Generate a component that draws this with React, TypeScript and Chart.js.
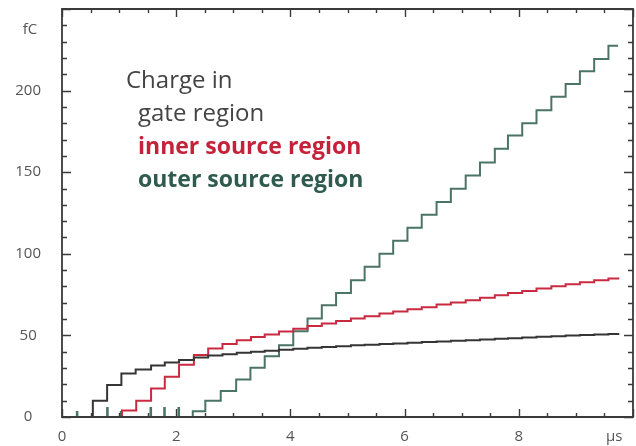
import { useEffect, useRef } from "react";
import { Chart, registerables } from "chart.js";

Chart.register(...registerables);

// Step times (µs) and accumulated charge (fC) after each step
const gateTimes = [0, 0.54, 0.79, 1.04, 1.29, 1.56, 1.8, 2.05, 2.31, 2.56, 2.81, 3.06, 3.31, 3.55, 3.8, 4.05, 4.3, 4.55, 4.8, 5.06, 5.3, 5.56, 5.8, 6.05, 6.3, 6.56, 6.81, 7.07, 7.32, 7.58, 7.81, 8.06, 8.31, 8.57, 8.82, 9.07, 9.32, 9.57, 9.76];
const gateCharge = [0, 10, 19.6, 26.7, 29.1, 31.6, 33.4, 34.9, 36.5, 37.7, 38.5, 39.3, 40.0, 40.6, 41.2, 41.8, 42.4, 42.9, 43.4, 43.9, 44.3, 44.7, 45.1, 45.5, 45.9, 46.3, 46.7, 47.1, 47.5, 47.9, 48.3, 48.7, 49.1, 49.5, 49.9, 50.2, 50.5, 50.8, 50.8];

const innerTimes = [0, 1.05, 1.3, 1.56, 1.8, 2.05, 2.31, 2.56, 2.81, 3.06, 3.31, 3.55, 3.8, 4.05, 4.3, 4.55, 4.8, 5.06, 5.3, 5.56, 5.8, 6.05, 6.3, 6.56, 6.81, 7.07, 7.32, 7.58, 7.81, 8.06, 8.31, 8.57, 8.82, 9.07, 9.32, 9.57, 9.76];
const innerCharge = [0, 4, 10, 17.5, 24.7, 32, 38, 42, 44.8, 47, 49, 50.6, 52.4, 54, 55.7, 57.3, 58.9, 60.4, 61.8, 63.4, 64.7, 66, 67.3, 68.9, 70.1, 71.6, 73, 74.6, 76, 77.2, 78.7, 80.1, 81.3, 82.6, 83.8, 84.8, 84.8];

// Outer region: short induced spikes first, then steady collection
const outerTimes = [0, 0.26, 0.27, 0.79, 0.8, 1.03, 1.04, 1.55, 1.56, 1.79, 1.8, 2.04, 2.05, 2.29, 2.51, 2.78, 3.05, 3.3, 3.55, 3.8, 4.05, 4.3, 4.55, 4.8, 5.06, 5.3, 5.56, 5.8, 6.05, 6.3, 6.56, 6.81, 7.07, 7.32, 7.58, 7.81, 8.06, 8.31, 8.57, 8.82, 9.07, 9.32, 9.57, 9.74];
const outerCharge = [0, 3, 0, 5.5, 0, 3, 0, 5.5, 0, 5.5, 0, 5.5, 0, 3.5, 10, 15.9, 23, 30.2, 37.3, 44, 52.5, 60.4, 68.5, 76, 83.8, 92, 100, 108, 116, 124, 131.7, 139.8, 148, 156, 164.3, 172.5, 180, 188, 196.3, 204, 211.8, 219.3, 227.5, 227.5];

const yLabelValues = [0, 50, 100, 150, 200];
const xLabelValues = [0, 2, 4, 6, 8];
const yUnit = "fC";
const xUnit = "µs";

const noteTitle = "Charge in";
const seriesNames = ["gate region", "inner source region", "outer source region"];
const seriesColors = ["#353535", "#c92a40", "#4a7466"];
const seriesTextColors = ["#444444", "#c4223a", "#2f5a4e"];

const TICK_FONT = '15px "Open Sans"';

const toPoints = (t: number[], q: number[]) => t.map((x, i) => ({ x, y: q[i] }));

// Fixed axis boxes with no extra edge padding
const fixBox = (size: { width?: number; height?: number }) => (s: any) => {
  if (size.width !== undefined) s.width = size.width;
  if (size.height !== undefined) s.height = size.height;
  s.paddingLeft = 0;
  s.paddingRight = 0;
  s.paddingTop = 0;
  s.paddingBottom = 0;
};

const framePlugin = {
  id: "frameTicksNotes",
  afterDraw(chart: any) {
    const { ctx, chartArea: a, scales } = chart;
    const xs = scales.x;
    const ys = scales.y;
    ctx.save();
    ctx.strokeStyle = "#3a3a3a";
    ctx.lineWidth = 1.4;
    ctx.beginPath();
    ys.ticks.forEach((t: any) => {
      const y = Math.round(ys.getPixelForValue(t.value)) + 0.5;
      const len = t.value % 50 === 0 ? 9 : 5;
      ctx.moveTo(a.left, y);
      ctx.lineTo(a.left + len, y);
      ctx.moveTo(a.right, y);
      ctx.lineTo(a.right - len, y);
    });
    xs.ticks.forEach((t: any) => {
      const x = Math.round(xs.getPixelForValue(t.value)) + 0.5;
      const len = t.value % 2 === 0 ? 8 : 4;
      ctx.moveTo(x, a.bottom);
      ctx.lineTo(x, a.bottom - len);
      ctx.moveTo(x, a.top);
      ctx.lineTo(x, a.top + len);
    });
    ctx.stroke();

    ctx.lineWidth = 1.8;
    ctx.beginPath();
    ctx.moveTo(a.left, a.top);
    ctx.lineTo(a.right, a.top);
    ctx.lineTo(a.right, a.bottom);
    ctx.lineTo(a.left, a.bottom);
    ctx.closePath();
    ctx.stroke();

    // axis units
    ctx.fillStyle = "#555555";
    ctx.font = TICK_FONT;
    ctx.textAlign = "center";
    ctx.textBaseline = "middle";
    ctx.fillText(yUnit, 30, ys.getPixelForValue(237.5));
    ctx.fillText(xUnit, xs.getPixelForValue(9.67), 437);

    // annotation block
    ctx.textAlign = "left";
    ctx.textBaseline = "alphabetic";
    ctx.fillStyle = "#444444";
    ctx.font = '24px "Open Sans"';
    ctx.fillText(noteTitle, 126, 88);
    const baselines = [121, 154, 187];
    seriesNames.forEach((name, i) => {
      ctx.fillStyle = seriesTextColors[i];
      ctx.font = i === 0 ? '24px "Open Sans"' : 'bold 23px "Open Sans"';
      ctx.fillText(name, 138, baselines[i]);
    });
    ctx.restore();
  },
};

export default function App() {
  const canvasRef = useRef<HTMLCanvasElement | null>(null);

  useEffect(() => {
    if (!canvasRef.current) return;
    const series = [
      toPoints(gateTimes, gateCharge),
      toPoints(innerTimes, innerCharge),
      toPoints(outerTimes, outerCharge),
    ];
    const chart = new Chart(canvasRef.current, {
      type: "line",
      data: {
        datasets: series.map((data, i) => ({
          label: seriesNames[i],
          data,
          borderColor: seriesColors[i],
          borderWidth: 2,
          pointRadius: 0,
          stepped: true,
          tension: 0,
          fill: false,
        })),
      },
      options: {
        animation: false,
        responsive: false,
        devicePixelRatio: 1,
        layout: { padding: { left: 0, right: 3, top: 9, bottom: 0 } },
        plugins: { legend: { display: false }, tooltip: { enabled: false } },
        scales: {
          x: {
            type: "linear",
            min: 0,
            max: 10,
            grid: { display: false, drawTicks: false },
            border: { display: false },
            afterFit: fixBox({ height: 29 }),
            ticks: {
              stepSize: 0.5,
              autoSkip: false,
              maxRotation: 0,
              padding: 11,
              color: "#555555",
              font: { family: "Open Sans", size: 15 },
              callback: (v: any) => (xLabelValues.includes(Number(v)) ? String(v) : ""),
            },
          },
          y: {
            type: "linear",
            min: 0,
            max: 250,
            grid: { display: false, drawTicks: false },
            border: { display: false },
            afterFit: fixBox({ width: 62 }),
            ticks: {
              stepSize: 10,
              autoSkip: false,
              crossAlign: "center",
              padding: 21,
              color: "#555555",
              font: { family: "Open Sans", size: 15 },
              callback: (v: any) => (yLabelValues.includes(Number(v)) ? String(v) : ""),
            },
          },
        },
      },
      plugins: [framePlugin],
    });
    return () => chart.destroy();
  }, []);

  return (
    <div style={{ position: "fixed", left: 0, top: 0, width: 636, height: 446, background: "#ffffff" }}>
      <canvas ref={canvasRef} width={636} height={446} />
    </div>
  );
}
